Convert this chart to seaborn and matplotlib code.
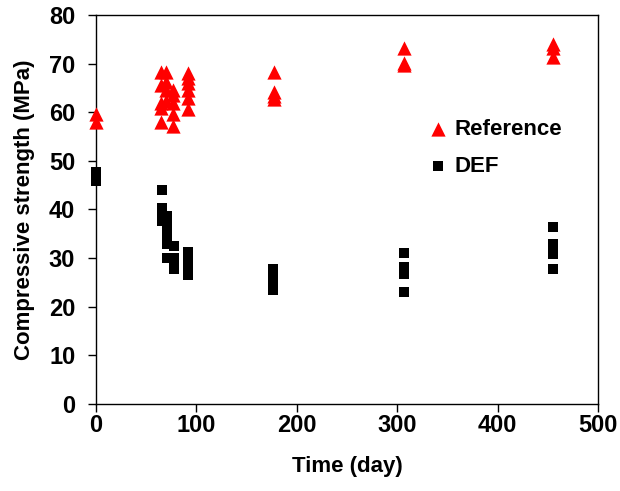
import numpy as np
import pandas as pd
import matplotlib
matplotlib.use("Agg")
import matplotlib.pyplot as plt
import seaborn as sns

# Reference series (red triangles)
ref_days = [0, 0,
            65, 65, 65, 65, 65,
            70, 70, 70, 70,
            77, 77, 77, 77, 77,
            92, 92, 92, 92, 92, 92,
            177, 177, 177, 177,
            307, 307, 307,
            455, 455, 455]
ref_strength = [59.6, 58.0,
                68.3, 65.6, 62.0, 60.8, 58.0,
                68.2, 66.2, 64.5, 62.3,
                64.5, 63.6, 62.0, 59.6, 57.2,
                68.0, 67.0, 66.0, 64.5, 63.0, 60.7,
                68.2, 64.2, 63.3, 62.7,
                73.2, 70.2, 69.8,
                74.0, 73.2, 71.3]

# DEF series (black squares)
def_days = [0, 0, 0, 0,
            66, 66, 66, 66, 66,
            71, 71, 71, 71, 71, 71,
            78, 78, 78, 78,
            92, 92, 92, 92, 92,
            176, 176, 176, 176, 176,
            307, 307, 307, 307,
            455, 455, 455, 455, 455]
def_strength = [47.8, 47.0, 46.3, 45.9,
                44.1, 40.3, 39.2, 38.2, 37.6,
                38.6, 37.0, 35.5, 34.0, 32.8, 30.1,
                32.5, 30.0, 28.8, 27.8,
                31.2, 30.0, 29.2, 28.5, 26.5,
                27.8, 26.5, 25.5, 24.2, 23.4,
                31.0, 28.2, 26.8, 23.1,
                36.4, 32.8, 31.8, 30.8, 27.8]

series_names = ["Reference", "DEF"]

df = pd.concat([
    pd.DataFrame({"Time": ref_days, "Strength": ref_strength, "Series": series_names[0]}),
    pd.DataFrame({"Time": def_days, "Strength": def_strength, "Series": series_names[1]}),
], ignore_index=True)

sns.set_style("ticks")
plt.rcParams["font.family"] = ["Liberation Sans", "DejaVu Sans"]
plt.rcParams["font.weight"] = "bold"
plt.rcParams["text.color"] = "black"
plt.rcParams["axes.labelcolor"] = "black"

fig = plt.figure(figsize=(6.2, 4.91), dpi=100)
ax = fig.add_axes([0.155, 0.1772, 0.8095, 0.7923])

palette = {"Reference": "#ff0000", "DEF": "#000000"}
markers = {"Reference": "^", "DEF": "s"}

for name, size in [("DEF", 48), ("Reference", 105)]:
    sub = df[df["Series"] == name]
    sns.scatterplot(data=sub, x="Time", y="Strength", color=palette[name],
                    marker=markers[name], s=size, linewidth=0, ax=ax,
                    label=name, clip_on=False, zorder=3)

ax.set_xlim(0, 500)
ax.set_ylim(0, 80)
ax.set_xticks(np.arange(0, 501, 100))
ax.set_yticks(np.arange(0, 81, 10))
for s in ax.spines.values():
    s.set_visible(True)
    s.set_color("black")
    s.set_linewidth(1.0)
ax.tick_params(axis="both", direction="out", length=6, width=1, labelsize=17,
               colors="black")
ax.tick_params(axis="x", pad=1)
ax.tick_params(axis="y", pad=9)
for lab in ax.get_xticklabels() + ax.get_yticklabels():
    lab.set_fontweight("bold")
ax.set_xlabel("Time (day)", fontsize=16, fontweight="bold", labelpad=14)
ax.set_ylabel("Compressive strength (MPa)", fontsize=16, fontweight="bold", labelpad=10)

handles, labels = ax.get_legend_handles_labels()
order = [labels.index("Reference"), labels.index("DEF")]
leg = ax.legend([handles[i] for i in order], [labels[i] for i in order],
                loc="upper left", bbox_to_anchor=(0.61, 0.785), frameon=False,
                prop={"weight": "bold", "size": 16}, handletextpad=0.05,
                labelspacing=0.75, markerscale=1.0, handlelength=1.4)

fig.savefig("out.png", dpi=100, facecolor="white")
